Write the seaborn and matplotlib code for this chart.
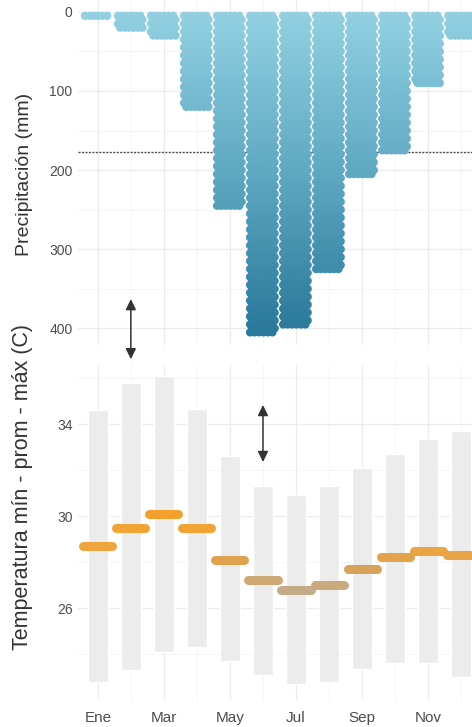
import numpy as np
import pandas as pd
import matplotlib
matplotlib.use("Agg")
import matplotlib.pyplot as plt
from matplotlib.colors import LinearSegmentedColormap, Normalize
from matplotlib.ticker import FixedLocator
import seaborn as sns

# ---------------- data ----------------
meses = ["Ene", "Feb", "Mar", "Abr", "May", "Jun", "Jul", "Ago", "Sep", "Oct", "Nov", "Dic"]
precip = [11, 27, 38, 128, 250, 412, 401, 330, 211, 179, 97, 36]          # mm
temp_min = [22.8, 23.3, 24.1, 24.3, 23.7, 23.1, 22.7, 22.8, 23.35, 23.6, 23.6, 23.0]
temp_prom = [28.7, 29.5, 30.1, 29.5, 28.1, 27.2, 26.8, 27.0, 27.7, 28.2, 28.5, 28.3]
temp_max = [34.6, 35.8, 36.1, 34.65, 32.6, 31.3, 30.9, 31.3, 32.1, 32.7, 33.35, 33.7]
etiquetas_x = ["Ene", "Mar", "May", "Jul", "Sep", "Nov"]

sns.set_theme(style="white")
plt.rcParams["font.family"] = ["Liberation Sans", "DejaVu Sans"]

W, H = 472, 727
fig = plt.figure(figsize=(W / 100, H / 100), dpi=100)
ax1 = fig.add_axes([78 / W, 1 - 345 / H, 403 / W, 345 / H])
ax2 = fig.add_axes([78 / W, 1 - 700 / H, 403 / W, 335 / H])
for ax in (ax1, ax2):
    ax.set_facecolor("none")
    for s in ax.spines.values():
        s.set_visible(False)
    ax.set_xlim(-0.6, 11.6)
    ax.xaxis.set_major_locator(FixedLocator([0, 2, 4, 6, 8, 10]))
    ax.xaxis.set_minor_locator(FixedLocator([1, 3, 5, 7, 9, 11]))
    ax.grid(True, which="major", color="#ebebeb", lw=0.9, zorder=0)
    ax.grid(True, which="minor", color="#f4f4f4", lw=0.6, zorder=0)
    ax.tick_params(which="both", length=0, colors="#4d4d4d")
    ax.set_axisbelow(True)

# ---------------- precipitation: columns of dots ----------------
rows = []
dx = 0.135
for i, v in enumerate(precip):
    ys = np.arange(5, v - 4 + 0.01, 5.0)
    for k, y in enumerate(ys):
        off = 0 if k % 2 == 0 else dx / 2
        xs = np.arange(-0.39, 0.40, dx) + off
        xs = xs[xs <= 0.40]
        for xx in xs:
            rows.append((i + xx, y))
dots = pd.DataFrame(rows, columns=["x", "y"])

cmap_p = LinearSegmentedColormap.from_list("lluvia", ["#93d1e2", "#5ea8c2", "#28789a"])
ax1.axhline(np.mean(precip), color="#4a4a4a", lw=1.0, ls=(0, (1.5, 1.0)), zorder=1)
sns.scatterplot(data=dots, x="x", y="y", hue="y", palette=cmap_p, hue_norm=(0, 410),
                s=36, linewidth=0, legend=False, ax=ax1, zorder=2)
ax1.set_ylim(421, -15)
ax1.set_yticks([0, 100, 200, 300, 400])
ax1.yaxis.set_minor_locator(FixedLocator([50, 150, 250, 350]))
ax1.set_xticklabels([])
ax1.set_xlabel("")
ax1.set_ylabel("Precipitación (mm)", fontsize=14, color="#333333")
ax1.yaxis.set_label_coords(-0.112, 0.493)
ax1.tick_params(axis="y", labelsize=10, pad=4)

# ---------------- temperature: min-max bars + mean ----------------
x = np.arange(len(meses))
ax2.bar(x, np.array(temp_max) - np.array(temp_min), bottom=temp_min, width=0.6,
        color="#ececec", zorder=1)
cmap_t = LinearSegmentedColormap.from_list(
    "temp", [(0, "#c5ab88"), (0.3, "#d8a157"), (0.55, "#eea53e"), (1, "#f3a12c")])
norm = Normalize(min(temp_prom), max(temp_prom))
ax2.hlines(temp_prom, x - 0.44, x + 0.44, colors=[cmap_t(norm(t)) for t in temp_prom],
           lw=6.5, capstyle="round", zorder=3)
ax2.set_ylim(22.0, 36.57)
ax2.set_yticks([26, 30, 34])
ax2.yaxis.set_minor_locator(FixedLocator([24, 28, 32, 36]))
ax2.set_xticklabels(etiquetas_x)
ax2.tick_params(axis="x", labelsize=11, pad=8)
ax2.tick_params(axis="y", labelsize=10, pad=4)
ax2.set_ylabel("Temperatura mín - prom - máx (C)", fontsize=15.5, color="#333333")
ax2.yaxis.set_label_coords(-0.112, 0.636)

# ---------------- arrows ----------------
flecha = dict(arrowstyle="<|-|>,head_length=0.45,head_width=0.22", color="#333333",
              lw=1.1, shrinkA=0, shrinkB=0, mutation_scale=14)
ax1.annotate("", xy=(1, 363), xytext=(1, 439), arrowprops=flecha, annotation_clip=False)
ax2.annotate("", xy=(5, 34.83), xytext=(5, 32.35), arrowprops=flecha, annotation_clip=False)

fig.savefig("out.png", dpi=100)
